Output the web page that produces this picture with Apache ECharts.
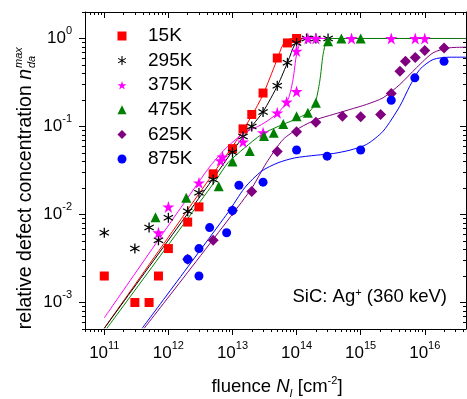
<!DOCTYPE html>
<html>
<head>
<meta charset="utf-8">
<script src="https://cdn.jsdelivr.net/npm/echarts@6/dist/echarts.min.js"></script>
<style>
  html, body { margin: 0; padding: 0; background: #fff; }
  #chart { width: 467px; height: 399px; }
</style>
</head>
<body>
<div id="chart"></div>
<script>
// measured points [fluence, n_da^max]
const k15 = [[1e11, 2.0e-3], [3e11, 1.0e-3], [5e11, 1.0e-3], [7e11, 2.0e-3], [1e12, 4.1e-3], [2e12, 8.2e-3],
  [3e12, 0.0122], [5e12, 0.029], [1e13, 0.056], [1.46e13, 0.094], [2e13, 0.137], [3e13, 0.24], [5e13, 0.60],
  [7.2e13, 0.89], [1e14, 1.0]]
const k295 = [[1e11, 6.2e-3], [3e11, 4.1e-3], [5e11, 7.1e-3], [7e11, 5.1e-3], [1e12, 9.2e-3], [2e12, 0.0109],
  [3e12, 0.0177], [5e12, 0.025], [1e13, 0.051], [1.46e13, 0.077], [2e13, 0.10], [3e13, 0.146], [5e13, 0.29],
  [7.2e13, 0.53], [1e14, 0.89], [1.43e14, 1.0], [2e14, 1.0], [3.1e14, 1.0]]
const k375 = [[7e11, 6.2e-3], [1e12, 0.0122], [3e12, 0.0229], [6.5e12, 0.041], [7e12, 0.045], [1.46e13, 0.067],
  [3e13, 0.085], [5e13, 0.143], [7e13, 0.19], [1e14, 0.25], [1e14, 0.72], [1.5e14, 1.0], [2e14, 1.0],
  [7.2e14, 1.0], [3e15, 1.0], [7.1e15, 1.0], [1e16, 1.0]]
const k475 = [[6.3e11, 9.3e-3], [1.9e12, 0.0155], [6.1e12, 0.021], [1e13, 0.040], [1.86e13, 0.0525], [3.1e13, 0.078],
  [4.4e13, 0.085], [6.2e13, 0.107], [1e14, 0.131], [1.5e14, 0.143], [2e14, 0.186], [3.1e14, 0.93], [5e14, 1.0],
  [1e15, 1.0]]
const k625 = [[2e12, 3.1e-3], [5e12, 5.1e-3], [1e13, 0.0111], [2e13, 0.0182], [5e13, 0.052], [1e14, 0.087],
  [2e14, 0.112], [5.2e14, 0.131], [1e15, 0.129], [2.05e15, 0.137], [3e15, 0.237], [4.1e15, 0.425], [5e15, 0.55],
  [7.1e15, 0.61], [1e16, 0.73], [2e16, 0.78]]
const k875 = [[2e12, 3.1e-3], [3e12, 2.0e-3], [3e12, 4.1e-3], [4.4e12, 7.1e-3], [8.1e12, 6.2e-3], [1e13, 0.0111],
  [1.26e13, 0.0215], [3e13, 0.0233], [1e14, 0.054], [3e14, 0.046], [1e15, 0.054], [3e15, 0.199], [7e15, 0.357],
  [2e16, 0.55]]

// fit curves
const fit15 = [[1e11, 5.1e-4], [5.3e12, 0.031], [1.09e13, 0.065], [1.98e13, 0.131], [3e13, 0.231], [4.85e13, 0.552],
  [6.16e13, 0.855], [7.84e13, 0.987], [1e14, 1.0], [4.4e16, 1.0]]
const fit295 = [[1e11, 5.1e-4], [5.3e12, 0.0272], [1.09e13, 0.0573], [2.09e13, 0.105], [3e13, 0.147], [5.14e13, 0.30],
  [7.36e13, 0.552], [9.38e13, 0.855], [1.19e14, 1.0], [4.4e16, 1.0]]
const fit375 = [[1e11, 6.7e-4], [2.57e12, 0.0201], [4.7e12, 0.037], [8.5e12, 0.0597], [1.55e13, 0.0848],
  [2.83e13, 0.105], [5.14e13, 0.143], [7.36e13, 0.203], [8.8e13, 0.342], [1e14, 0.658], [1.19e14, 0.974],
  [1.4e14, 1.0], [4.4e16, 1.0]]
const fit475 = [[1.1e11, 5.1e-4], [5.63e12, 0.0251], [8.5e12, 0.0387], [1.55e13, 0.0573], [2.83e13, 0.081],
  [5.14e13, 0.10], [9.38e13, 0.12], [1.5e14, 0.143], [1.92e14, 0.178], [2.3e14, 0.327], [2.59e14, 0.658],
  [2.92e14, 0.93], [3.3e14, 1.0], [4.4e16, 1.0]]
const fit625 = [[4.2e11, 5.1e-4], [1.86e13, 0.0184], [3.39e13, 0.0387], [6.16e13, 0.0712], [1.12e14, 0.0967],
  [2.04e14, 0.12], [3.72e14, 0.137], [6.77e14, 0.156], [1.23e15, 0.178], [2.24e15, 0.212], [4.08e15, 0.30],
  [7.43e15, 0.465], [1.35e16, 0.688], [2.46e16, 0.784], [4.4e16, 0.796]]
const fit875 = [[3.9e11, 5.1e-4], [8.5e12, 0.0105], [1.55e13, 0.0201], [2.83e13, 0.031], [5.14e13, 0.0387],
  [9.38e13, 0.044], [2.04e14, 0.0472], [3.72e14, 0.0493], [6.77e14, 0.0538], [1.23e15, 0.0624], [2.24e15, 0.0885],
  [4.08e15, 0.170], [5.83e15, 0.287], [8.35e15, 0.444], [1.35e16, 0.577], [2.46e16, 0.613], [4.4e16, 0.613]]

const names = ['15K', '295K', '375K', '475K', '625K', '875K']
const colors = ['#ff0000', '#000000', '#ff00ff', '#008000', '#800080', '#0000ff']
const xMajor = [1e11, 1e12, 1e13, 1e14, 1e15, 1e16]
const yMajor = [1e-3, 1e-2, 1e-1, 1]
const xRange = [5e10, 4.4e16]
const yRange = [5e-4, 2]

function minorTicks(range) {
  const out = []
  const lo = Math.floor(Math.log10(range[0]))
  const hi = Math.ceil(Math.log10(range[1]))
  for (let d = lo; d <= hi; d++) {
    for (let m = 2; m <= 9; m++) {
      const v = m * Math.pow(10, d)
      if (v >= range[0] && v <= range[1]) out.push(v)
    }
  }
  return out
}
const xMinor = minorTicks(xRange)
const yMinor = minorTicks(yRange)

const font = '"Liberation Sans", Arial, sans-serif'
const starPath = 'path://M0,-1L0.2245,-0.309L0.951,-0.309L0.363,0.118L0.588,0.809L0,0.382L-0.588,0.809L-0.363,0.118L-0.951,-0.309L-0.2245,-0.309Z'
const asteriskPath = 'path://M-0.12,-1L0.12,-1L0.12,1L-0.12,1Z' +
  'M0.806,-0.604L0.926,-0.396L-0.806,0.604L-0.926,0.396Z' +
  'M-0.926,-0.396L-0.806,-0.604L0.926,0.396L0.806,0.604Z'
const symbols = ['rect', asteriskPath, starPath, 'triangle', 'diamond', 'circle']
const symbolSizes = [9, 10, 12, 10, 11, 9]

const points = [k15, k295, k375, k475, k625, k875]
const fits = [fit15, fit295, fit375, fit475, fit625, fit875]

const powRich = {
  b: { fontSize: 17, fontFamily: font, color: '#000', lineHeight: 26 },
  s: { fontSize: 11, fontFamily: font, color: '#000', lineHeight: 11, verticalAlign: 'top' }
}
function powLabel(v) {
  return '{b|10}{s|' + Math.round(Math.log10(v)) + '}'
}

const axisLineStyle = { color: '#000', width: 1 }

function xAxisDef(position, values, length, inside, withLine, withLabel) {
  return {
    type: 'log', position, min: xRange[0], max: xRange[1],
    axisLine: { show: withLine, lineStyle: axisLineStyle },
    axisTick: { show: true, inside, length, customValues: values, lineStyle: axisLineStyle },
    axisLabel: withLabel
      ? { show: true, customValues: xMajor, formatter: powLabel, rich: powRich, margin: 11 }
      : { show: false },
    splitLine: { show: false },
    minorTick: { show: false }
  }
}
function yAxisDef(position, values, length, inside, withLine, withLabel) {
  return {
    type: 'log', position, min: yRange[0], max: yRange[1],
    axisLine: { show: withLine, lineStyle: axisLineStyle },
    axisTick: { show: true, inside, length, customValues: values, lineStyle: axisLineStyle },
    axisLabel: withLabel
      ? { show: true, customValues: yMajor, formatter: powLabel, rich: powRich, margin: 13 }
      : { show: false },
    splitLine: { show: false },
    minorTick: { show: false }
  }
}

const series = []
fits.forEach((data, i) => {
  series.push({
    name: names[i] + ' fit', type: 'line', data, xAxisIndex: 0, yAxisIndex: 0,
    showSymbol: false, smooth: 0.25, z: 2, silent: true,
    lineStyle: { color: colors[i], width: 1 }
  })
})
points.forEach((data, i) => {
  series.push({
    name: names[i], type: 'scatter', data, xAxisIndex: 0, yAxisIndex: 0,
    symbol: symbols[i], symbolSize: symbolSizes[i], z: 3,
    itemStyle: { color: colors[i], opacity: 1 }
  })
})

const chart = echarts.init(document.getElementById('chart'), null, { renderer: 'canvas' })
chart.setOption({
  animation: false,
  backgroundColor: '#fff',
  grid: { left: 85, top: 12, width: 381, height: 317 },
  xAxis: [
    xAxisDef('bottom', xMajor, 6, false, true, true),
    xAxisDef('bottom', xMinor, 3, false, false, false),
    xAxisDef('top', xMajor, 6, true, true, false),
    xAxisDef('top', xMinor, 3, true, false, false)
  ],
  yAxis: [
    yAxisDef('left', yMajor, 6, false, true, true),
    yAxisDef('left', yMinor, 3, false, false, false),
    yAxisDef('right', yMajor, 6, true, true, false),
    yAxisDef('right', yMinor, 3, true, false, false)
  ],
  legend: {
    data: names, orient: 'vertical', left: 112.5, top: 21.5,
    itemWidth: 9, itemHeight: 9, itemGap: 5.6,
    textStyle: { fontSize: 19, fontFamily: font, color: '#000', padding: [0, 0, 0, 16.5] },
    selectedMode: false
  },
  graphic: [
    {
      type: 'text', x: 277, y: 387,
      style: {
        text: 'fluence {i|N}{sub|I} [cm{sup|-2}]',
        fontSize: 18.5, fontFamily: font, fill: '#000', align: 'center', verticalAlign: 'middle',
        rich: {
          i: { fontSize: 18.5, fontFamily: font, fontStyle: 'italic', fill: '#000', lineHeight: 24 },
          sub: { fontSize: 11, fontFamily: font, fontStyle: 'italic', fill: '#000', lineHeight: 11, verticalAlign: 'bottom' },
          sup: { fontSize: 11, fontFamily: font, fill: '#000', lineHeight: 11, verticalAlign: 'top' }
        }
      }
    },
    {
      type: 'text', x: 447, y: 297,
      style: {
        text: 'SiC: Ag{sup|+} (360 keV)',
        fontSize: 18.5, fontFamily: font, fill: '#000', align: 'right', verticalAlign: 'middle',
        rich: {
          sup: { fontSize: 11, fontFamily: font, fill: '#000', lineHeight: 11, verticalAlign: 'top' }
        }
      }
    },
    {
      type: 'group', x: 26, y: 69, rotation: Math.PI / 2,
      children: [
        {
          type: 'text', x: 0, y: 0,
          style: {
            text: 'relative defect concentration {i|n}',
            fontSize: 19.5, fontFamily: font, fill: '#000', align: 'right', verticalAlign: 'middle',
            rich: { i: { fontSize: 19.5, fontFamily: font, fontStyle: 'italic', fill: '#000' } }
          }
        },
        {
          type: 'text', x: 1, y: -7,
          style: { text: 'max', fontSize: 11, fontFamily: font, fontStyle: 'italic', fill: '#000', align: 'left', verticalAlign: 'middle' }
        },
        {
          type: 'text', x: 1, y: 6,
          style: { text: 'da', fontSize: 11, fontFamily: font, fontStyle: 'italic', fill: '#000', align: 'left', verticalAlign: 'middle' }
        }
      ]
    }
  ],
  series
})
</script>
</body>
</html>
